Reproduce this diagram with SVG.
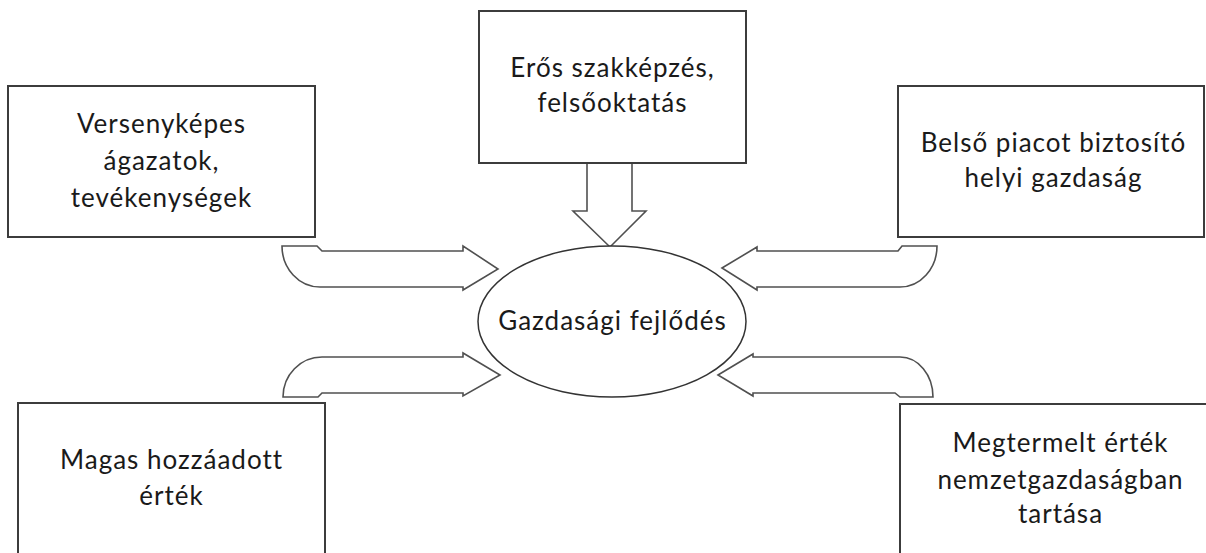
<svg xmlns="http://www.w3.org/2000/svg" width="1206" height="553" viewBox="0 0 1206 553">
<style>
.box{fill:#fff;stroke:#3c3c3c;stroke-width:2}
.arr{fill:#fff;stroke:#505050;stroke-width:1.6;stroke-linejoin:miter}
.ell{fill:#fff;stroke:#333;stroke-width:1.5}
text{font-family:"Lato","Liberation Sans",sans-serif;font-size:26px;letter-spacing:1px;fill:#1a1a1a;text-anchor:middle}
</style>
<rect width="1206" height="553" fill="#fff"/>
<g id="connectors">
<path class="arr" d="M587,163 L587,211 L573,211 L610,247 L646,211 L632,211 L632,163"/>
<path class="arr" d="M282,246 L317,246 L322,251 L463,251 L463,246 L498,269 L463,290 L463,287 L320,287 A38,41 0 0 1 282,246 Z"/>
<path class="arr" d="M283,397 L318,397 L322,393 L463,393 L463,396 L500,375 L463,353 L463,357 L322,357 A39,40 0 0 0 283,397 Z"/>
<path class="arr" d="M722,268 L757,247 L757,251 L898,251 L902,246 L937,246 A37,41 0 0 1 900,287 L757,287 L757,290 Z"/>
<path class="arr" d="M718,375 L753,354 L753,357 L900,357 A33,40 0 0 1 933,397 L900,397 L895,393 L753,393 L753,396 Z"/>
</g>
<g id="node-top">
<rect class="box" x="479" y="11" width="267" height="152"/>
<text x="612.5" y="77">Erős szakképzés,</text>
<text x="612.5" y="112">felsőoktatás</text>
</g>
<g id="node-top-left">
<rect class="box" x="8" y="86" width="307" height="151"/>
<text x="161.5" y="133">Versenyképes</text>
<text x="161.5" y="170">ágazatok,</text>
<text x="161.5" y="207">tevékenységek</text>
</g>
<g id="node-top-right">
<rect class="box" x="898" y="86" width="306" height="151"/>
<text x="1053.5" y="152">Belső piacot biztosító</text>
<text x="1053.5" y="187">helyi gazdaság</text>
</g>
<g id="node-bottom-left">
<rect class="box" x="18" y="403" width="307" height="170"/>
<text x="171.5" y="469">Magas hozzáadott</text>
<text x="171.5" y="505">érték</text>
</g>
<g id="node-bottom-right">
<rect class="box" x="900" y="404" width="320" height="170"/>
<text x="1060.5" y="452">Megtermelt érték</text>
<text x="1060.5" y="489">nemzetgazdaságban</text>
<text x="1060.5" y="523">tartása</text>
</g>
<g id="node-center">
<ellipse class="ell" cx="612" cy="321.5" rx="134" ry="75.5"/>
<text x="612.5" y="330">Gazdasági fejlődés</text>
</g>
</svg>
